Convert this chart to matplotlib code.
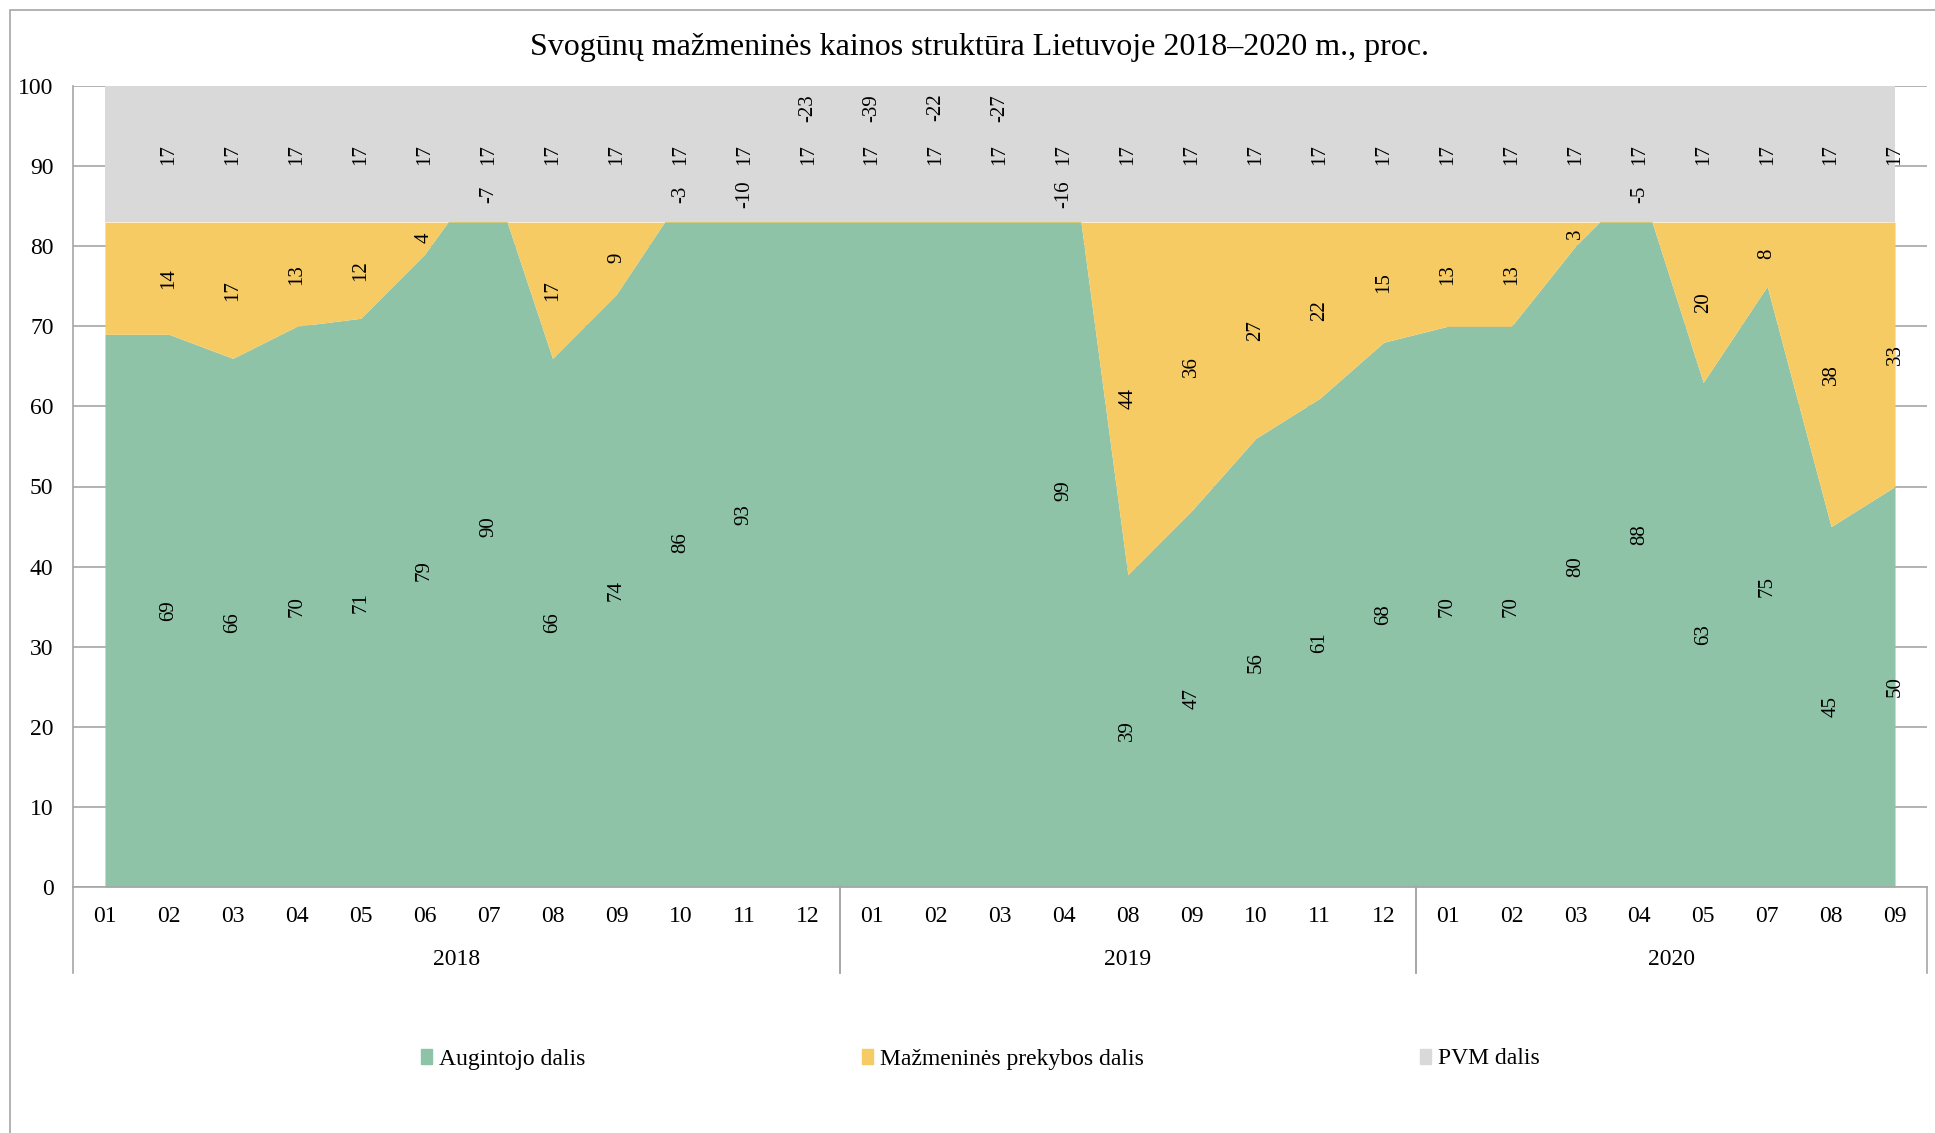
import numpy as np
import matplotlib.pyplot as plt
import matplotlib.transforms as mtransforms
from matplotlib.patches import Patch, Rectangle

plt.rcParams['font.family'] = ['Liberation Serif', 'DejaVu Serif']

# categories: months grouped by year
years = ['2018', '2019', '2020']
months_2018 = ['01', '02', '03', '04', '05', '06', '07', '08', '09', '10', '11', '12']
months_2019 = ['01', '02', '03', '04', '08', '09', '10', '11', '12']
months_2020 = ['01', '02', '03', '04', '05', '07', '08', '09']

# shares of retail price, %
grower = [69, 69, 66, 70, 71, 79, 90, 66, 74, 86, 93, 106,
          122, 105, 110, 99, 39, 47, 56, 61, 68,
          70, 70, 80, 88, 63, 75, 45, 50]
retail = [14, 14, 17, 13, 12, 4, -7, 17, 9, -3, -10, -23,
          -39, -22, -27, -16, 44, 36, 27, 22, 15,
          13, 13, 3, -5, 20, 8, 38, 33]
vat = [17, 17, 17, 17, 17, 17, 17, 17, 17, 17, 17, 17,
       17, 17, 17, 17, 17, 17, 17, 17, 17,
       17, 17, 17, 17, 17, 17, 17, 17]

series_names = ['Augintojo dalis', 'Mažmeninės prekybos dalis', 'PVM dalis']
colors = ['#8FC3A7', '#F6CB64', '#D9D9D9']
line_col = '#A6A6A6'

month_groups = [months_2018, months_2019, months_2020]
months = months_2018 + months_2019 + months_2020
n = len(months)
x = np.arange(n)
g = np.array(grower, dtype=float)
r = np.array(retail, dtype=float)
v = np.array(vat, dtype=float)

fig = plt.figure(figsize=(19.35, 11.33), dpi=100)
ax = fig.add_axes([73 / 1935, 1 - 887 / 1133, 1854 / 1935, 801 / 1133])

# stacked areas, drawn in Excel order
ax.fill_between(x, 0, g, color=colors[0], lw=0, zorder=2)
ax.fill_between(x, g, g + r, color=colors[1], lw=0, zorder=3)
ax.fill_between(x, g + r, g + r + v, color=colors[2], lw=0, zorder=4)

ax.set_xlim(-0.5, n - 0.5)
ax.set_ylim(0, 100)
ax.set_yticks(np.arange(0, 101, 10))
ax.yaxis.grid(True, color=line_col, lw=1.2, zorder=0)
ax.set_axisbelow(True)
for s in ['top', 'right']:
    ax.spines[s].set_visible(False)
for s in ['left', 'bottom']:
    ax.spines[s].set_color(line_col)
    ax.spines[s].set_linewidth(1.2)
ax.tick_params(axis='y', length=0, pad=14, labelsize=17)
ax.set_xticks(x)
ax.set_xticklabels(months)
ax.tick_params(axis='x', length=0, pad=14, labelsize=17)

# data labels (first point has none)
lab = dict(rotation=90, ha='center', va='center', fontsize=15, zorder=6)
for i in range(1, n):
    if g[i] <= 100:
        ax.text(x[i], g[i] / 2, f'{grower[i]:d}', **lab)
    if r[i] >= 0:
        ry = g[i] + r[i] / 2
    elif g[i] <= 100:
        ry = g[i] + r[i] + 3.5
    else:
        ry = 97.3
    ax.text(x[i], ry, f'{retail[i]:d}', **lab)
    ax.text(x[i], g[i] + r[i] + v[i] / 2, f'{vat[i]:d}', **lab)

# year level of the category axis
trans = mtransforms.blended_transform_factory(ax.transData, ax.transAxes)
start = -0.5
for yr, grp in zip(years, month_groups):
    end = start + len(grp)
    ax.text((start + end) / 2, -0.09, yr, transform=trans,
            ha='center', va='center', fontsize=17)
    for b in (start, end):
        ax.plot([b, b], [0, -0.107], transform=trans, color=line_col,
                lw=1.2, clip_on=False)
    start = end

fig.text(0.506, 1 - 47 / 1133,
         'Svogūnų mažmeninės kainos struktūra Lietuvoje 2018–2020 m., proc.',
         ha='center', va='center', fontsize=23)

# legend entries placed like the Excel legend
leg_x = [421 / 1935, 862 / 1935, 1420 / 1935]
for name, c, lx in zip(series_names, colors, leg_x):
    fig.legend(handles=[Patch(color=c, label=name)], loc='center left',
               bbox_to_anchor=(lx, 1 - 1059 / 1133), frameon=False,
               fontsize=17, handlelength=0.45, handleheight=0.6,
               handletextpad=0.3, borderpad=0, borderaxespad=0)

# chart area border
fig.patches.append(Rectangle((10 / 1935, -0.01), 1.02, 1 - 10 / 1133 + 0.01,
                             transform=fig.transFigure, fill=False,
                             edgecolor=line_col, lw=1.2))

fig.savefig('out.png', dpi=100)
